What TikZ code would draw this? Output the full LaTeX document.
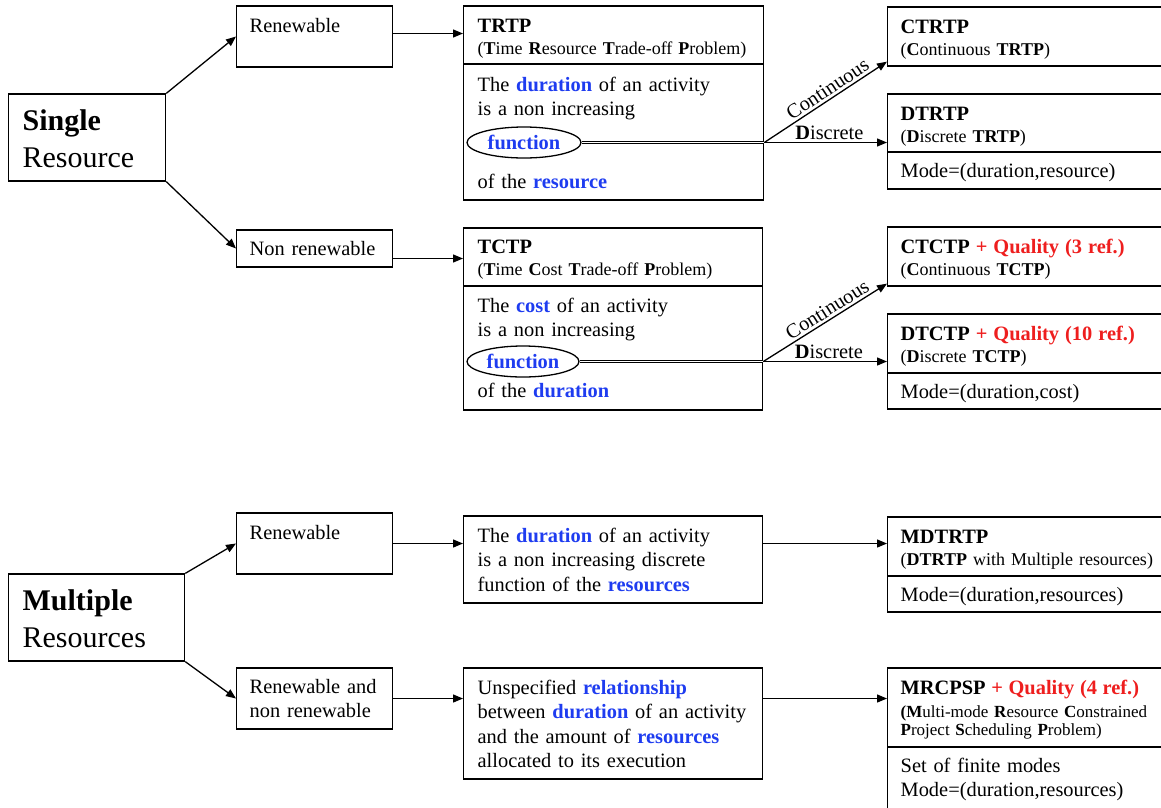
\documentclass[tikz,border=0pt]{standalone}
\usepackage{fontspec}
\setmainfont{Liberation Serif}
\usetikzlibrary{arrows.meta, shapes.geometric}
\definecolor{cKey}{RGB}{30,60,240}
\definecolor{cQual}{RGB}{238,30,30}
\newcommand\fB{\fontsize{20.4}{24.5}\selectfont}
\newcommand\fS{\fontsize{18}{22.5}\selectfont}
\newcommand\fL{\fontsize{30}{37}\selectfont}
\newcommand\fM{\fontsize{17}{18.5}\selectfont}
\newcommand\kw[1]{\textcolor{cKey}{\textbf{#1}}}
\newcommand\qual[1]{\textcolor{cQual}{\textbf{#1}}}

\begin{document}
\begin{tikzpicture}[x=1pt, y=-1pt,
      b/.style={draw, anchor=base west, inner xsep=13pt, inner ysep=0pt,
                align=left, font=\fB},
      sz/.style n args={3}{text width=#1, text height=#2, text depth=#3},
      fn/.style={draw, ellipse, inner sep=0pt, font=\fB\bfseries, text=cKey},
      lab/.style={font=\fB, inner sep=2.5pt},
      dbl/.style={double, double distance=1.5pt, line width=1pt},
      >={Triangle[length=10pt, width=8pt]}, line width=1.3pt]
    \useasboundingbox (0,0) rectangle (1161,807);
    \clip (0,0) rectangle (1161,807);
    % single resource
    \node[b, sz={129pt}{36pt}{51pt}, inner xsep=14pt, font=\fL] (single) at (8,130) {\textbf{Single}\\ Resource};
    \node[b, sz={130pt}{26pt}{35pt}] (ren1) at (236,32) {Renewable};
    \node[b, sz={130pt}{25pt}{12pt}] (nren) at (236,255) {Non renewable};
    \node[b, sz={272pt}{26pt}{32pt}, inner xsep=14pt, font=\fS] (trtp) at (463,32)
      {{\fB\bfseries TRTP}\\ (\textbf{T}ime \textbf{R}esource \textbf{T}rade-off \textbf{P}roblem)};
    \node[b, sz={272pt}{27pt}{109pt}, inner xsep=14pt] (trtpb) at (463,91)
      {The \kw{duration} of an activity\\ is a non increasing\\[48.5pt] of the \kw{resource}};
    \node[fn, minimum width=114pt, minimum height=31pt] (fun1) at (524,142.5) {function};
    \coordinate (j1) at (trtpb.east |- fun1.east);
    \node[b, sz={262pt}{26pt}{33pt}, font=\fS] (ctrtp) at (887,33)
      {{\fB\textbf{CTRTP}}\\ (\textbf{C}ontinuous \textbf{TRTP})};
    \node[b, sz={262pt}{26pt}{32pt}, font=\fS] (dtrtp) at (887,120)
      {{\fB\textbf{DTRTP}}\\ (\textbf{D}iscrete \textbf{TRTP})};
    \node[b, sz={262pt}{25pt}{12pt}] (dtrtpm) at (887,177) {Mode=(duration,resource)};
    \node[b, sz={271pt}{25pt}{33pt}, inner xsep=14pt, font=\fS] (tctp) at (463,253)
      {{\fB\bfseries TCTP}\\ (\textbf{T}ime \textbf{C}ost \textbf{T}rade-off \textbf{P}roblem)};
    \node[b, sz={271pt}{26pt}{98pt}, inner xsep=14pt] (tctpb) at (463,312)
      {The \kw{cost} of an activity\\ is a non increasing\\[36pt] of the \kw{duration}};
    \node[fn, minimum width=112pt, minimum height=31pt] (fun2) at (523,361.5) {function};
    \coordinate (j2) at (tctpb.east |- fun2.east);
    \node[b, sz={262pt}{26pt}{33pt}, font=\fS] (ctctp) at (887,253)
      {{\fB\textbf{CTCTP} \qual{+ Quality (3 ref.)}}\\ (\textbf{C}ontinuous \textbf{TCTP})};
    \node[b, sz={262pt}{26pt}{33pt}, font=\fS] (dtctp) at (887,340)
      {{\fB\textbf{DTCTP} \qual{+ Quality (10 ref.)}}\\ (\textbf{D}iscrete \textbf{TCTP})};
    \node[b, sz={262pt}{25pt}{11pt}] (dtctpm) at (887,398) {Mode=(duration,cost)};
    \draw[->] (single.north east) -- (ren1.west);
    \draw[->] (single.south east) -- (nren.west);
    \draw[->] ([yshift=3pt]ren1.east) -- ([yshift=3pt]ren1.east -| trtp.west);
    \draw[->] ([yshift=-10pt]nren.east) -- ([yshift=-10pt]nren.east -| tctp.west);
    \draw[dbl] (fun1.east) -- (j1);
    \draw[dbl] (fun2.east) -- (j2);
    \draw[->] (j1) -- node[lab, sloped, above, pos=0.56] {Continuous} ([yshift=5pt]ctrtp.south west);
    \draw[->] (j1) -- node[lab, above, pos=0.53] {\textbf{D}iscrete} (j1 -| dtrtp.west);
    \draw[->] (j2) -- node[lab, sloped, above, pos=0.56] {Continuous} ([yshift=3pt]ctctp.south west);
    \draw[->] (j2) -- node[lab, above, pos=0.53] {\textbf{D}iscrete} (j2 -| dtctp.west);
    % multiple resources
    \node[b, sz={148pt}{36pt}{51pt}, inner xsep=14pt, font=\fL] (multi) at (8,610) {\textbf{Multiple}\\ Resources};
    \node[b, sz={130pt}{26pt}{35pt}] (ren2) at (236,539) {Renewable};
    \node[b, sz={130pt}{25pt}{36pt}] (rennon) at (236,693) {Renewable and\\ non renewable};
    \node[b, sz={271pt}{26pt}{61pt}, inner xsep=14pt] (dur) at (463,542)
      {The \kw{duration} of an activity\\ is a non increasing discrete\\ function of the \kw{resources}};
    \node[b, sz={271pt}{26pt}{85pt}, inner xsep=14pt] (rel) at (463,694)
      {Unspecified \kw{relationship}\\ between \kw{duration} of an activity\\ and the amount of \kw{resources}\\ allocated to its execution};
    \node[b, sz={262pt}{26pt}{33pt}, font=\fS] (mdtrtp) at (887,543)
      {{\fB\textbf{MDTRTP}}\\ (\textbf{DTRTP} with Multiple resources)};
    \node[b, sz={262pt}{25pt}{11pt}] (mdtrtpm) at (887,601) {Mode=(duration,resources)};
    \node[b, sz={262pt}{26pt}{53pt}, font=\fM] (mrcpsp) at (887,694)
      {{\fB\textbf{MRCPSP} \qual{+ Quality (4 ref.)}}\\[4.5pt] \textbf{(M}ulti-mode \textbf{R}esource \textbf{C}onstrained\\ \textbf{P}roject \textbf{S}cheduling \textbf{P}roblem)};
    \node[b, sz={262pt}{25pt}{60pt}] (mrcpspm) at (887,772) {Set of finite modes\\ Mode=(duration,resources)};
    \draw[->] (multi.north east) -- (ren2.west);
    \draw[->] (multi.south east) -- (rennon.west);
    \draw[->] (ren2.east) -- (ren2.east -| dur.west);
    \draw[->] (rennon.east) -- (rennon.east -| rel.west);
    \draw[->] (dur.east |- ren2.east) -- (mdtrtp.west |- ren2.east);
    \draw[->] (rel.east |- rennon.east) -- (mrcpsp.west |- rennon.east);
\end{tikzpicture}
\end{document}
